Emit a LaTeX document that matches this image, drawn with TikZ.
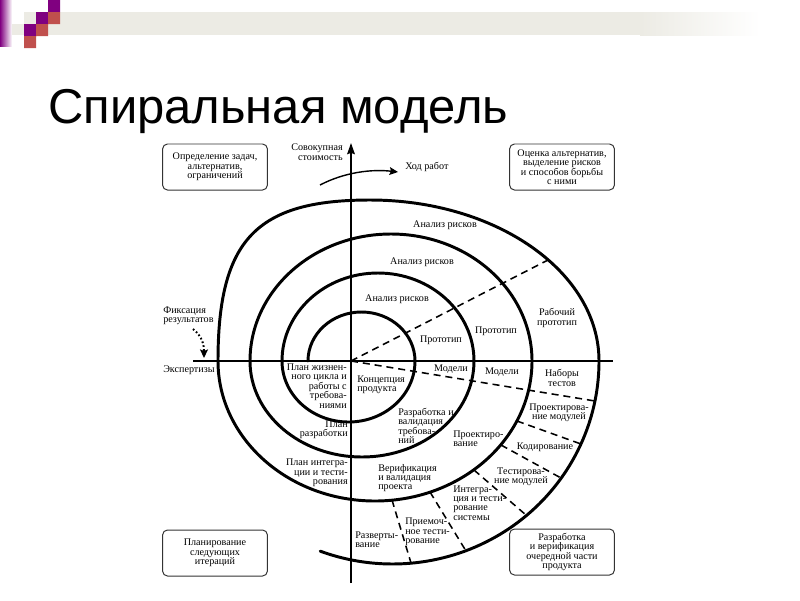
\documentclass[tikz,border=0pt]{standalone}
\usepackage{fontspec}
\setmainfont{Liberation Serif}
\newfontfamily\slidefont{Liberation Sans}
\usepackage{xcolor}
\usetikzlibrary{arrows,arrows.meta,positioning,backgrounds}
\definecolor{slidepurple}{RGB}{128,0,128}
\definecolor{slidered}{RGB}{192,80,77}
\definecolor{slideband}{RGB}{236,235,228}
\newcommand{\labelfont}{\fontsize{7.2}{6.7}\selectfont\lineskiplimit=-10pt}
\tikzset{
    %Define standard arrow tip
    >=stealth',
    %Define style for boxes
    stage/.style={
           rectangle,
           rounded corners=3.5pt,
           draw=black!80, line width=0.7pt,
           minimum width=2.62cm,
           minimum height=1.15cm,
           inner sep=1pt,
           font=\labelfont,
           align=center},
    %Define style for labels
    note/.style={
           inner sep=0pt,
           font=\labelfont,
           align=center},
    lnote/.style={note, align=left, anchor=west},
    rnote/.style={note, align=right, anchor=east},
    % Define line styles
    coil/.style={line width=2.1pt, line cap=round},
    axis/.style={line width=1.1pt},
    sector/.style={line width=1.1pt, dash pattern=on 5pt off 3.5pt},
    pil/.style={-{Stealth[length=6pt,width=5.5pt,inset=1pt]}, line width=1pt},
    fixpil/.style={-{Stealth[length=6pt,width=5.5pt,inset=1pt]}, line width=1.4pt,
           dash pattern=on 1.2pt off 1.6pt}
}

\begin{document}
\begin{tikzpicture}[x=0.025cm, y=-0.025cm]
\useasboundingbox (0,0) rectangle (800,600);
\fill[white] (0,0) rectangle (800,600);
 %slide header
\shade[left color=slidepurple, right color=white] (0,0) rectangle (12,46);
\fill[slideband] (12,12) rectangle (640,35);
\shade[left color=slideband, right color=white] (640,12) rectangle (760,35);
\fill[white] (12,12) rectangle (24,24);
\fill[slidepurple] (48,0) rectangle (60,12) (36,12) rectangle (48,24) (24,24) rectangle (36,36);
\fill[slidered] (48,12) rectangle (60,24) (36,24) rectangle (48,36) (24,36) rectangle (36,48);
\node[anchor=base west, inner sep=0pt, font=\slidefont\fontsize{34.8}{40}\selectfont] (title) at (48,123) {Спиральная модель};

 %quadrant boxes
\node[stage] (goals) at (215,167) {Определение задач,\\альтернатив,\\ограничений};
\node[stage] (risks) at (562,167) {Оценка альтернатив,\\выделение рисков\\и способов борьбы\\с ними};
\node[stage] (plan) at (215,553) {Планирование\\следующих\\итераций};
\node[stage] (dev) at (562,552) {Разработка\\и верификация\\очередной части\\продукта};

 %axes
\coordinate (o) at (351,361);
\coordinate (xstart) at (193,361);
\coordinate (xend) at (613,361);
\coordinate (ystart) at (351,583);
\coordinate (yend) at (351,143);
\draw[axis] (xstart) -- (xend);
\draw[axis, -{Stealth[length=8pt,width=5.5pt,inset=1pt]}] (ystart) -- (yend);
\node[rnote] (cost) at (343,152) {Совокупная\\стоимость};
\node[lnote] (hod) at (405,167) {Ход работ};
\coordinate (hodstart) at (320,185);
\draw[pil] (hodstart) .. controls (345,172) and (372,169) .. ([shift={(-7,5)}]hod.west);
\node[lnote] (fix) at (163,316) {Фиксация\\результатов};
\node[lnote] (review) at (163,370) {Экспертизы};
\coordinate (fixstart) at (193,329);
\coordinate (fixend) at (204,358);
\draw[fixpil] (fixstart) .. controls (203,337) and (204,346) .. (fixend);

 %spiral, half turn by half turn
\draw[coil] (308,361)
  arc[start angle=180, end angle=360, x radius=53.5, y radius=49]
  arc[start angle=0, end angle=180, x radius=66.5, y radius=61]
  arc[start angle=180, end angle=360, x radius=96, y radius=88]
  arc[start angle=0, end angle=180, x radius=112, y radius=96]
  arc[start angle=180, end angle=360, x radius=141, y radius=127]
  arc[start angle=0, end angle=180, x radius=157, y radius=140]
  .. controls (218,240) and (256,200) .. (370,200)
  arc[start angle=270, end angle=360, x radius=229, y radius=161]
  arc[start angle=0, end angle=110.5, x radius=206.5, y radius=203];

 %sectors
\draw[sector] (o) -- (548,260);
\draw[sector] (o) -- (595,401);
\draw[sector] (517,421) -- (581,444);
\draw[sector] (501,445) -- (561,478);
\draw[sector] (474,470) -- (526,515);
\draw[sector] (430,492) -- (466,551);
\draw[sector] (392,500) -- (411,563);

 %labels
\node[note] (ra1) at (397,299) {Анализ рисков};
\node[note] (ra2) at (422,262) {Анализ рисков};
\node[note] (ra3) at (445,225) {Анализ рисков};
\node[note] (pt1) at (441,340) {Прототип};
\node[note] (pt2) at (496,331) {Прототип};
\node[note] (pt3) at (557,318) {Рабочий\\прототип};
\node[note] (md1) at (451,369) {Модели};
\node[note] (md2) at (502,372) {Модели};
\node[note] (tst) at (562,378) {Наборы\\тестов};
\node[note] (mdl) at (559,413) {Проектирова-\\ние модулей};
\node[note] (cod) at (545,447) {Кодирование};
\node[note] (ut) at (521,477) {Тестирова-\\ние модулей};
\node[lnote] (it) at (453,503) {Интегра-\\ция и тести-\\рование\\системы};
\node[lnote] (acc) at (405,532) {Приемоч-\\ное тести-\\рование};
\node[lnote] (dep) at (355,540) {Разверты-\\вание};
\node[lnote] (vv) at (378,478) {Верификация\\и валидация\\проекта};
\node[lnote] (des) at (453,439) {Проектиро-\\вание};
\node[lnote] (req) at (398,426) {Разработка и\\валидация\\требова-\\ний};
\node[lnote] (con) at (357,385) {Концепция\\продукта};
\node[rnote] (lcp) at (347,386) {План жизнен-\\ного цикла и\\работы с\\требова-\\ниями};
\node[rnote] (dvp) at (348,430) {План\\разработки};
\node[rnote] (itp) at (348,473) {План интегра-\\ции и тести-\\рования};
\end{tikzpicture}
\end{document}
